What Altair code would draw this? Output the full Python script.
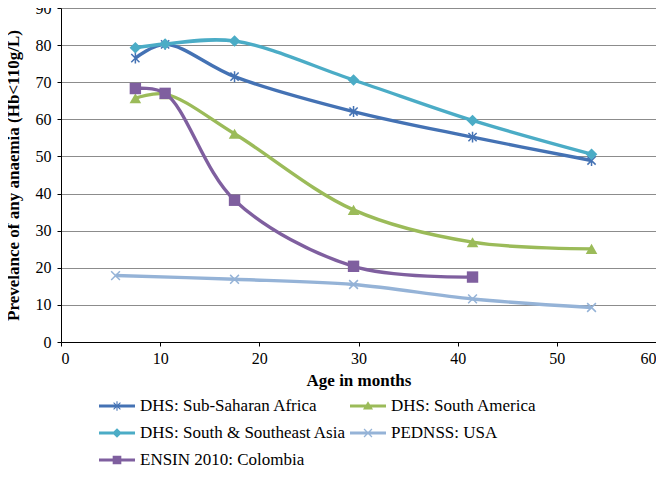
import altair as alt
import pandas as pd

series_names = [
    "DHS: Sub-Saharan Africa",
    "DHS: South America",
    "DHS: South & Southeast Asia",
    "PEDNSS: USA",
    "ENSIN 2010: Colombia",
]
colors = ["#4472B4", "#9BBB59", "#4BACC6", "#95B3D7", "#7F5F9F"]

ssa_age = [7.5, 10.5, 17.5, 29.5, 41.5, 53.5]
ssa_val = [76.5, 80.2, 71.5, 62.1, 55.2, 48.9]
sam_age = [7.5, 10.5, 17.5, 29.5, 41.5, 53.5]
sam_val = [65.7, 66.8, 56.1, 35.6, 26.9, 25.1]
asia_age = [7.5, 10.5, 17.5, 29.5, 41.5, 53.5]
asia_val = [79.3, 80.3, 81.1, 70.6, 59.7, 50.6]
usa_age = [5.5, 17.5, 29.5, 41.5, 53.5]
usa_val = [17.9, 16.9, 15.5, 11.6, 9.3]
col_age = [7.5, 10.5, 17.5, 29.5, 41.5]
col_val = [68.3, 67.0, 38.2, 20.4, 17.5]

rows = []
for name, ages, vals in [
    (series_names[0], ssa_age, ssa_val),
    (series_names[1], sam_age, sam_val),
    (series_names[2], asia_age, asia_val),
    (series_names[3], usa_age, usa_val),
    (series_names[4], col_age, col_val),
]:
    for a, v in zip(ages, vals):
        rows.append({"series": name, "age": a, "value": v})
df = pd.DataFrame(rows)

FONT = "Liberation Serif"

def diag(a, t, flip=False):
    if not flip:
        pts = [(-a + t, -a - t), (a + t, a - t), (a - t, a + t), (-a - t, -a + t)]
    else:
        pts = [(a + t, -a + t), (-a + t, a + t), (-a - t, a - t), (a - t, -a - t)]
    return "M" + "L".join(f"{x:.3f},{y:.3f}" for x, y in pts) + "Z"

def vbar(a, t):
    return f"M{-t},{-a}H{t}V{a}H{-t}Z"

asterisk_plot = "M0,-1L0,1M-0.75,-0.75L0.75,0.75M-0.75,0.75L0.75,-0.75"
xcross_plot = "M-0.8,-0.8L0.8,0.8M-0.8,0.8L0.8,-0.8"

line_rect = "M-1,-0.09H1V0.09H-1Z"
leg_asterisk = line_rect + vbar(0.26, 0.03) + diag(0.19, 0.022) + diag(0.19, 0.022, True)
leg_triangle = line_rect + "M0,-0.26L0.28,0.2L-0.28,0.2Z"
leg_diamond = line_rect + "M0,-0.27L0.27,0L0,0.27L-0.27,0Z"
leg_xcross = line_rect + diag(0.22, 0.025) + diag(0.22, 0.025, True)
leg_square = line_rect + "M-0.24,-0.24H0.24V0.24H-0.24Z"
leg_paths = [leg_asterisk, leg_triangle, leg_diamond, leg_xcross, leg_square]

color_scale = alt.Scale(domain=series_names, range=colors)

x_enc = alt.X(
    "age:Q",
    title="Age in months",
    scale=alt.Scale(domain=[0, 60], nice=False),
    axis=alt.Axis(values=[0, 10, 20, 30, 40, 50, 60], grid=False),
)
y_enc = alt.Y(
    "value:Q",
    title="Prevelance of any anaemia (Hb<110g/L)",
    scale=alt.Scale(domain=[0, 90], nice=False),
    axis=alt.Axis(values=list(range(0, 91, 10)), grid=True),
)

legend_def = alt.Legend(
    title=None,
    orient="none",
    legendX=38,
    legendY=380,
    direction="horizontal",
    columns=2,
    symbolSize=1296,
    symbolStrokeWidth=0,
    symbolOpacity=1,
    labelFont=FONT,
    labelFontSize=17,
    labelColor="#000",
    labelLimit=400,
    rowPadding=1,
    columnPadding=4,
    labelOffset=5,
    padding=0,
)

color_enc = alt.Color("series:N", scale=color_scale, legend=legend_def)

lines = alt.Chart(df).mark_line(interpolate="catmull-rom", strokeWidth=3.4).encode(
    x=x_enc,
    y=y_enc,
    color=color_enc,
    detail="series:N",
)

# invisible layer whose shape + colour legend describes the series
legend_layer = alt.Chart(df).mark_point(filled=True, opacity=0).encode(
    x=x_enc,
    y=y_enc,
    color=color_enc,
    shape=alt.Shape(
        "series:N",
        scale=alt.Scale(domain=series_names, range=leg_paths),
        legend=legend_def,
    ),
)

marker_specs = [
    (series_names[0], asterisk_plot, False, 120),
    (series_names[1], "triangle-up", True, 135),
    (series_names[2], "diamond", True, 135),
    (series_names[3], xcross_plot, False, 120),
    (series_names[4], "square", True, 130),
]
marker_layers = []
for name, shp, fill, sz in marker_specs:
    if fill:
        mk = alt.Chart(df).mark_point(shape=shp, filled=True, opacity=1, strokeWidth=0, size=sz)
    else:
        mk = alt.Chart(df).mark_point(shape=shp, filled=False, opacity=1, strokeWidth=1.5, size=sz)
    marker_layers.append(
        mk.transform_filter(alt.datum.series == name).encode(
            x=x_enc, y=y_enc, color=color_enc
        )
    )

chart = (
    alt.layer(lines, legend_layer, *marker_layers)
    .properties(
        width=595,
        height=334,
        background="white",
        autosize=alt.AutoSizeParams(type="none"),
        padding={"left": 53, "top": 0, "right": 0, "bottom": 133},
    )
    .configure_view(stroke=None)
    .configure_legend(labelFont=FONT, labelFontSize=17, labelColor="#000")
    .configure_axis(
        labelFont=FONT,
        labelFontSize=16,
        labelColor="#000",
        titleFont=FONT,
        titleFontSize=17,
        titleFontWeight="bold",
        titleColor="#000",
        domainColor="#000",
        domainWidth=1,
        tickColor="#000",
        tickSize=4,
        gridColor="#8c8c8c",
        gridWidth=1.2,
    )
    .configure_axisY(titlePadding=13, labelPadding=6)
    .configure_axisX(titlePadding=6, labelPadding=4)
)

chart.save("out.html", embed_options={"renderer": "svg", "actions": False})
